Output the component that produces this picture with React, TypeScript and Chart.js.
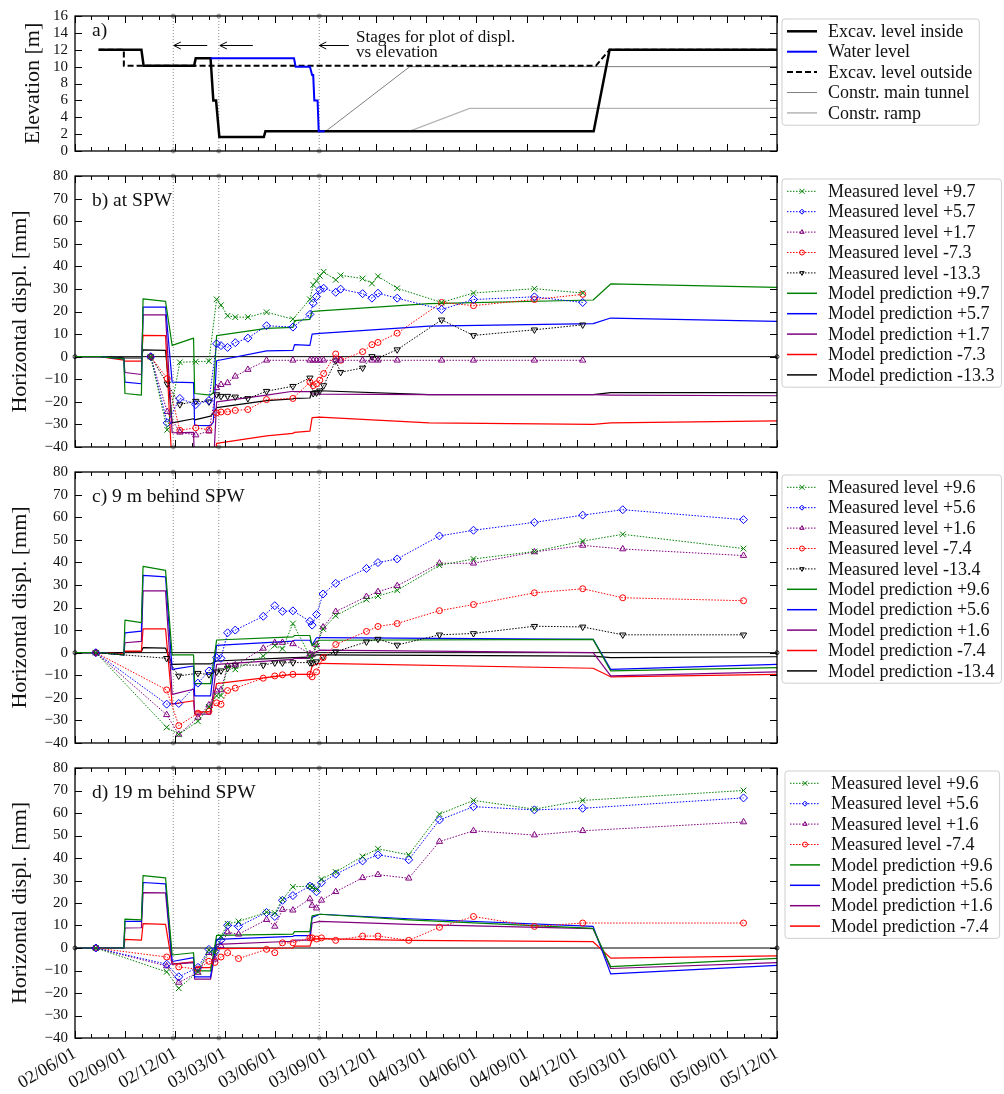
import React, { useEffect, useRef } from 'react';
import { Chart, registerables } from 'chart.js';

Chart.register(...registerables);

const FONT = '"Liberation Serif", "DejaVu Serif", serif';
Chart.defaults.font.family = FONT;

const T0 = Date.UTC(2002, 5, 1);
function day(s: string): number {
  const p = s.split('-').map(Number);
  return (Date.UTC(p[0], p[1] - 1, p[2]) - T0) / 86400000;
}

// ---------- axis ----------
const X_MIN = '2002-06-01';
const X_MAX = '2005-12-01';
const TICK_DATES = ['2002-06-01', '2002-09-01', '2002-12-01', '2003-03-01', '2003-06-01', '2003-09-01', '2003-12-01', '2004-03-01', '2004-06-01', '2004-09-01', '2004-12-01', '2005-03-01', '2005-06-01', '2005-09-01', '2005-12-01'];
const TICK_LABELS = ['02/06/01', '02/09/01', '02/12/01', '03/03/01', '03/06/01', '03/09/01', '03/12/01', '04/03/01', '04/06/01', '04/09/01', '04/12/01', '05/03/01', '05/06/01', '05/09/01', '05/12/01'];
const STAGE_DATES = ['2002-11-27', '2003-02-18', '2003-08-20'];

const MAJOR_DAYS = TICK_DATES.map(day);
const MONTH_DAYS: number[] = [];
for (let y = 2002, m = 5; y < 2005 || (y === 2005 && m <= 11);) {
  MONTH_DAYS.push((Date.UTC(y, m, 1) - T0) / 86400000);
  m++;
  if (m > 11) { m = 0; y++; }
}

// ---------- panel a ----------
const A_INSIDE_X = ['2002-07-14', '2002-09-30', '2002-10-04', '2003-01-04', '2003-01-07', '2003-02-03', '2003-02-08', '2003-02-13', '2003-02-19', '2003-05-11', '2003-05-14', '2005-01-01', '2005-01-30', '2005-12-01'];
const A_INSIDE_Y = [12, 12, 10.1, 10.1, 11, 11, 6, 6, 1.65, 1.65, 2.35, 2.35, 12, 12];
const A_WATER_X = ['2003-02-03', '2003-07-05', '2003-07-08', '2003-08-03', '2003-08-07', '2003-08-09', '2003-08-11', '2003-08-17', '2003-08-19', '2003-08-30'];
const A_WATER_Y = [11, 11, 10, 10, 9, 9, 6, 6, 2.35, 2.35];
const A_OUTSIDE_X = ['2002-07-14', '2002-08-29', '2002-08-29', '2005-01-05', '2005-01-30', '2005-12-01'];
const A_OUTSIDE_Y = [12, 12, 10.1, 10.1, 12, 12];
const A_TUNNEL_X = ['2003-09-01', '2004-02-01', '2005-12-01'];
const A_TUNNEL_Y = [2.35, 10, 10];
const A_RAMP_X = ['2004-02-01', '2004-05-20', '2005-12-01'];
const A_RAMP_Y = [2.35, 5.05, 5.05];
const ARROW_FROM = ['2003-01-28', '2003-04-21', '2003-10-13'];
const ARROW_TO = ['2002-11-28', '2003-02-20', '2003-08-20'];
const ARROW_Y = 12.6;
const NOTE_LINES = ['Stages for plot of displ.', 'vs elevation'];
const NOTE_X = '2003-10-26';
const NOTE_Y = 12.9;

// ---------- panel b ----------
const B_LEVELS = ['+9.7', '+5.7', '+1.7', '-7.3', '-13.3'];
const B_MEAS_X = ['2002-10-17', '2002-11-16', '2002-12-09', '2003-01-07', '2003-01-31', '2003-02-14', '2003-02-22', '2003-03-06', '2003-03-20', '2003-04-12', '2003-05-16', '2003-07-03', '2003-08-03', '2003-08-09', '2003-08-15', '2003-08-21', '2003-08-28', '2003-09-19', '2003-09-28', '2003-11-07', '2003-11-24', '2003-12-05', '2004-01-09', '2004-03-30', '2004-05-27', '2004-09-15', '2004-12-12'];
const B_MEAS_G = [0, -32.4, -2.5, -2.2, -2, 25.4, 22.8, 18.1, 17.5, 17.5, 19.7, 16.6, 25.4, 31.8, 33.5, 35.8, 37.6, 34, 36, 34.6, 32.4, 35.6, 30.3, 24, 28.2, 30.1, 28.2];
const B_MEAS_B = [0, -29.3, -18.5, -21.2, -19.4, 5.7, 4.9, 4.1, 6.2, 8.2, 13.7, 13.1, 18.7, 23.7, 26.6, 29.6, 30.3, 28.5, 29.9, 27.9, 25.9, 28.1, 25.9, 20.9, 25.3, 26.5, 24];
const B_MEAS_P = [0, -24.4, -33.5, -34.7, -33, -13.8, -12.4, -11.6, -8.7, -5.7, -1.6, -1.6, -1.6, -1.6, -1.6, -1.6, -1.6, -1.6, -1.6, -1.6, -1.6, -1.6, -1.6, -1.6, -1.6, -1.6, -1.6];
const B_MEAS_R = [0, -9.7, -32.6, -31.5, -32.4, -24.9, -24.5, -24.4, -23.8, -23.4, -19, -18.5, -11.3, -12.8, -12, -10.4, -7.5, 1.2, -1.6, 2.2, 5.3, 6.3, 10.4, 24, 22.6, 25.3, 27.6];
const B_MEAS_K = [0, -12, -21.2, -19.7, -20, -16.8, -17.5, -17.5, -17.8, -18.5, -15.3, -13.1, -9.4, -16.3, -16, -15.1, -12.8, -1.8, -6.9, -5, 0.1, -0.6, 3.1, 16.3, 9.4, 11.9, 14.1];
const B_MOD_X = ['2002-06-01', '2002-07-16', '2002-08-29', '2002-08-31', '2002-09-30', '2002-10-03', '2002-11-13', '2002-11-25', '2003-01-03', '2003-01-05', '2003-02-03', '2003-02-08', '2003-02-14', '2003-05-16', '2003-07-03', '2003-07-06', '2003-08-03', '2003-08-07', '2003-08-21', '2004-03-07', '2004-12-31', '2005-02-01', '2005-12-01'];
const B_MOD_G = [0, 0, -1, -16.3, -17, 25.6, 24.5, 5, 8.2, -16.3, -17, -16, 9.3, 12.5, 13, 16, 16.5, 20, 20.3, 23.5, 25.1, 32.2, 30.7];
const B_MOD_B = [0, 0, -1, -11.3, -12, 21.9, 22, -11.3, -11.5, -30.4, -30.5, -29, -1.8, 2.6, 2.8, 5.3, 5, 10, 10.3, 13.5, 14.6, 17.1, 15.6];
const B_MOD_P = [0, 0, -1, -7, -7.9, 18.5, 18.5, -33.7, -33.5, -50, -50, -50, -20, -17, -15.3, -15.5, -15.5, -16.5, -16.6, -16.8, -16.8, -17, -17.3];
const B_MOD_R = [0, 0, -1.5, -2, -2, 9.4, 9.3, -50, -50, -50, -50, -50, -38.4, -35.1, -34, -33.5, -33, -27, -26.8, -29.3, -30, -29.3, -28.4];
const B_MOD_K = [0, 0, -0.5, -0.6, -0.6, 3, 2.8, -29.3, -27.5, -28, -26.3, -25, -22.6, -19.5, -18.7, -18.5, -18.3, -15.3, -15.1, -16.8, -16.8, -15.9, -15.9];

// ---------- panel c ----------
const C_LEVELS = ['+9.6', '+5.6', '+1.6', '-7.4', '-13.4'];
const C_MEAS_X = ['2002-07-09', '2002-11-15', '2002-12-07', '2003-01-11', '2003-01-31', '2003-02-14', '2003-02-22', '2003-03-06', '2003-03-20', '2003-05-10', '2003-05-31', '2003-06-14', '2003-07-03', '2003-08-03', '2003-08-07', '2003-08-15', '2003-08-27', '2003-09-19', '2003-11-14', '2003-12-05', '2004-01-09', '2004-03-26', '2004-05-27', '2004-09-15', '2004-12-12', '2005-02-23', '2005-10-01'];
const C_MEAS_G = [0, -33.1, -36.2, -30.4, -24, -19.1, -19, -6.2, -7.4, -1.5, 3.2, 1.7, 12.9, -1.5, -2.5, 2.9, 10.5, 16.4, 23.5, 25.1, 27.6, 38.7, 41.5, 44.8, 49.4, 52.4, 46.1];
const C_MEAS_B = [0, -22.8, -22.5, -13.5, -8.1, -2.2, -2.5, 8.8, 10, 16.1, 20.8, 18.3, 18.5, 13.9, 12.2, 16.9, 26, 30.7, 37.3, 39.9, 41.5, 51.7, 54.2, 57.7, 60.9, 63.3, 58.9];
const C_MEAS_P = [0, -27.5, -36.2, -28.7, -23.2, -17.1, -16.5, -5.9, -5.5, 1.9, 4.4, 4.5, 3.9, -0.5, -1, 3.5, 11.3, 18.2, 24.8, 27, 29.6, 39.6, 39.6, 44.6, 47.5, 45.9, 43];
const C_MEAS_R = [0, -16.5, -32.3, -26.8, -26, -22.2, -22.9, -16.8, -15.7, -11.3, -10.3, -9.8, -9.6, -9.6, -10.7, -8.5, -2.2, 3.6, 9.4, 11.6, 12.9, 18.6, 21.3, 26.5, 28.3, 24.3, 23];
const C_MEAS_K = [0, -2.5, -10.3, -9.1, -9.7, -8.5, -8, -6.9, -5.5, -5.5, -4.5, -4.5, -4.4, -4.4, -4.5, -4, -1.9, 0.4, 4.8, 6, 3.4, 7.9, 8.5, 11.7, 11.4, 7.9, 7.9];
const C_MOD_X = ['2002-06-01', '2002-07-16', '2002-08-29', '2002-08-31', '2002-09-30', '2002-10-03', '2002-11-13', '2002-11-25', '2003-01-03', '2003-01-05', '2003-02-03', '2003-02-14', '2003-07-03', '2003-07-06', '2003-08-03', '2003-08-07', '2003-08-15', '2003-08-21', '2004-12-31', '2005-02-01', '2005-12-01'];
const C_MOD_G = [0, 0, -1, 14.4, 13.3, 38.2, 36.4, -1, -1, -13.7, -13.7, 5.6, 7, 7.6, 7.6, 3, 5, 5.5, 5.9, -8.1, -6.6];
const C_MOD_B = [0, 0, -1, 8.8, 9.5, 34.2, 33.6, -7.4, -5.9, -19.1, -19.1, 3.2, 5.1, 5.5, 5.5, 3.5, 6.6, 6.7, 5.9, -7.4, -5.2];
const C_MOD_P = [0, 0, -1, 4.4, 5, 27.4, 27.4, -18.5, -16.2, -27.2, -27.2, -5.2, -3, -2.5, -2.5, -1, 0.5, 1.1, 0, -10.3, -8.5];
const C_MOD_R = [0, 0, -0.5, 0.7, 0.7, 10.5, 10.5, -22.8, -21.3, -26.2, -26.2, -13.7, -9.6, -9.6, -9.6, -6, -5, -4.7, -6.9, -10.7, -9.6];
const C_MOD_K = [0, 0, 0, 0.5, 0.5, 2.2, 2, -5.2, -5, -5, -5, -3.7, -2.2, -2.2, -2, -1.5, -1, -1, -1.5, -2.2, -1.8];

// ---------- panel d ----------
const D_LEVELS = ['+9.6', '+5.6', '+1.6', '-7.4'];
const D_MEAS_X = ['2002-07-09', '2002-11-15', '2002-12-07', '2003-01-11', '2003-01-31', '2003-02-11', '2003-02-22', '2003-03-06', '2003-03-26', '2003-05-16', '2003-05-31', '2003-06-14', '2003-07-03', '2003-08-03', '2003-08-07', '2003-08-15', '2003-08-24', '2003-09-19', '2003-11-07', '2003-12-05', '2004-01-30', '2004-03-26', '2004-05-27', '2004-09-15', '2004-12-12', '2005-10-01'];
const D_MEAS_G = [0, -10.6, -17.9, -10.5, -1, -2, 5, 10.8, 11.8, 15.9, 15.5, 21.6, 27.2, 27.5, 27, 26, 30.6, 33.8, 40.7, 44.1, 41.4, 59.5, 65.6, 61.7, 65.6, 70];
const D_MEAS_B = [0, -7.2, -12.8, -8.6, -0.6, -1.5, 3.5, 10.1, 9.6, 15.8, 14, 21.2, 23.3, 27.5, 26.9, 25, 29, 32.8, 38.7, 41.4, 39.2, 56.9, 62.8, 61.4, 62.1, 66.7];
const D_MEAS_P = [0, -8, -15.3, -10.9, -2.1, -5, 1, 7.1, 6.1, 12.6, 9.6, 17.1, 16.8, 21.8, 18.9, 17.7, 21.2, 25, 31.2, 32.6, 31, 47.3, 52.1, 50.2, 52.1, 56];
const D_MEAS_R = [0, -4, -8.4, -9.4, -5.9, -6.4, -4, -2.1, -4.7, -0.6, -2.1, 2.3, 2.3, 4.5, 4.5, 4, 4.5, 3.4, 5.3, 5.3, 3.4, 9.2, 14, 9.6, 11.1, 11.1];
const D_MOD_X = ['2002-06-01', '2002-08-29', '2002-08-31', '2002-09-30', '2002-10-03', '2002-11-13', '2002-11-25', '2003-01-03', '2003-01-05', '2003-02-03', '2003-02-14', '2003-07-03', '2003-07-06', '2003-08-03', '2003-08-07', '2003-08-21', '2004-01-30', '2004-12-31', '2005-02-01', '2005-12-01'];
const D_MOD_G = [0, 0, 12.8, 12.5, 32.2, 31.2, -3.1, -2.1, -10.2, -10.2, 5.6, 6.2, 7.3, 7.3, 14.3, 15, 12.5, 8.7, -8.3, -4.6];
const D_MOD_B = [0, 0, 11.8, 11.8, 29.1, 28.5, -6, -4.3, -12.8, -12.8, 3.8, 5.2, 5.5, 5.5, 13.6, 15, 13, 9.6, -11.5, -7.7];
const D_MOD_P = [0, 0, 8.9, 9, 24.6, 24.5, -7.2, -6.5, -13.8, -13.8, 1.6, 3, 3.5, 3.5, 11.1, 11.8, 10.5, 8.6, -9.1, -6.5];
const D_MOD_R = [0, 0, 3.8, 3.5, 10.8, 10.5, -7.2, -6.2, -8.7, -8.7, -0.3, 0, 0.8, 0.8, 3.8, 4.2, 3.4, 2.8, -4.5, -3.5];

// ---------- styles ----------
const COLORS = ['#008000', '#0000ff', '#800080', '#ff0000', '#000000'];
const MARKERS = ['cross', 'diamond', 'tri', 'circle', 'tridown'];
const PSTYLE: any = { cross: 'crossRot', diamond: 'rectRot', tri: 'triangle', circle: 'circle', tridown: 'triangle' };
const PRAD: any = { cross: 4, diamond: 4, tri: 3.6, circle: 3, tridown: 3.6 };

const pts = (xs: string[], ys: number[]) => xs.map((d, i) => ({ x: day(d), y: ys[i] }));

function meas(xs: string[], ys: number[], i: number) {
  const mk = MARKERS[i];
  return {
    data: pts(xs, ys), borderColor: COLORS[i], borderWidth: 1, borderDash: [1.5, 1.5],
    pointStyle: PSTYLE[mk], pointRotation: mk === 'tridown' ? 180 : 0, pointRadius: PRAD[mk],
    pointBorderColor: COLORS[i], pointBackgroundColor: 'rgba(255,255,255,0)', pointBorderWidth: 1,
    tension: 0, fill: false, order: 1,
  };
}
function model(xs: string[], ys: number[], i: number) {
  return { data: pts(xs, ys), borderColor: COLORS[i], borderWidth: 1.2, pointRadius: 0, tension: 0, fill: false, order: 2, borderJoinStyle: 'round' };
}
function plain(xs: string[], ys: number[], color: string, width: number, order: number, dash: number[] = []) {
  return { data: pts(xs, ys), borderColor: color, borderWidth: width, borderDash: dash, pointRadius: 0, tension: 0, fill: false, order };
}
function stageSets(ymin: number, ymax: number) {
  return STAGE_DATES.map((d) => ({
    data: [{ x: day(d), y: ymin }, { x: day(d), y: ymax }],
    borderColor: '#8a8a8a', borderWidth: 1, borderDash: [1, 2], pointRadius: 2,
    pointBackgroundColor: '#c0c0c0', pointBorderColor: '#8a8a8a', pointBorderWidth: 0.8,
    clip: false, order: 6, tension: 0,
  }));
}
function zeroSet() {
  return {
    data: [{ x: day(X_MIN), y: 0 }, { x: day(X_MAX), y: 0 }], borderColor: '#000', borderWidth: 1,
    pointRadius: 2, pointBorderColor: '#000', pointBackgroundColor: 'rgba(255,255,255,0)', pointBorderWidth: 0.8,
    clip: false, order: 5, tension: 0,
  };
}
function legendFor(levels: string[]) {
  return [
    ...levels.map((l, i) => ({ label: `Measured level ${l}`, color: COLORS[i], width: 1, dash: [1.5, 1.5], marker: MARKERS[i] })),
    ...levels.map((l, i) => ({ label: `Model prediction ${l}`, color: COLORS[i], width: 1.5 })),
  ];
}

const LEG_A = [
  { label: 'Excav. level inside', color: '#000000', width: 2.5 },
  { label: 'Water level', color: '#0000ff', width: 2 },
  { label: 'Excav. level outside', color: '#000000', width: 2, dash: [6, 3] },
  { label: 'Constr. main tunnel', color: '#808080', width: 1 },
  { label: 'Constr. ramp', color: '#b4b4b4', width: 1.5 },
];

function drawMarker(ctx: any, type: string, x: number, y: number, r: number, color: string) {
  ctx.save();
  ctx.setLineDash([]);
  ctx.strokeStyle = color;
  ctx.lineWidth = 1;
  ctx.beginPath();
  if (type === 'cross') {
    ctx.moveTo(x - r, y - r); ctx.lineTo(x + r, y + r);
    ctx.moveTo(x - r, y + r); ctx.lineTo(x + r, y - r);
  } else if (type === 'diamond') {
    ctx.moveTo(x, y - r); ctx.lineTo(x + r, y); ctx.lineTo(x, y + r); ctx.lineTo(x - r, y); ctx.closePath();
  } else if (type === 'tri') {
    ctx.moveTo(x, y - r); ctx.lineTo(x + r * 0.87, y + r * 0.5); ctx.lineTo(x - r * 0.87, y + r * 0.5); ctx.closePath();
  } else if (type === 'tridown') {
    ctx.moveTo(x, y + r); ctx.lineTo(x + r * 0.87, y - r * 0.5); ctx.lineTo(x - r * 0.87, y - r * 0.5); ctx.closePath();
  } else {
    ctx.arc(x, y, r, 0, Math.PI * 2);
  }
  ctx.stroke();
  ctx.restore();
}

function drawLegend(ctx: any, items: any[], left: number, top: number) {
  const rowH = 20.4;
  const padTop = 12.3;
  ctx.save();
  ctx.font = `18px ${FONT}`;
  let maxW = 0;
  items.forEach((it) => { maxW = Math.max(maxW, ctx.measureText(it.label).width); });
  const w = 46 + maxW + 7;
  const h = padTop * 2 + rowH * (items.length - 1);
  ctx.beginPath();
  const r = 3;
  ctx.moveTo(left + r, top);
  ctx.arcTo(left + w, top, left + w, top + h, r);
  ctx.arcTo(left + w, top + h, left, top + h, r);
  ctx.arcTo(left, top + h, left, top, r);
  ctx.arcTo(left, top, left + w, top, r);
  ctx.closePath();
  ctx.fillStyle = 'rgba(255,255,255,0.85)';
  ctx.fill();
  ctx.strokeStyle = '#cfcfcf';
  ctx.lineWidth = 1;
  ctx.stroke();
  items.forEach((it, i) => {
    const cy = top + padTop + i * rowH;
    ctx.setLineDash(it.dash || []);
    ctx.strokeStyle = it.color;
    ctx.lineWidth = it.width;
    ctx.beginPath();
    ctx.moveTo(left + 5, cy);
    ctx.lineTo(left + 35, cy);
    ctx.stroke();
    ctx.setLineDash([]);
    if (it.marker) drawMarker(ctx, it.marker, left + 20, cy, 2.5, it.color);
    ctx.fillStyle = '#111';
    ctx.textAlign = 'left';
    ctx.textBaseline = 'middle';
    ctx.fillText(it.label, left + 46, cy + 1);
  });
  ctx.restore();
}

function makeDecor(p: any) {
  return {
    id: 'decor',
    afterDatasetsDraw(chart: any) {
      const { ctx, chartArea: a } = chart;
      const xs = chart.scales.x;
      const ys = chart.scales.y;
      ctx.save();
      ctx.setLineDash([]);
      ctx.strokeStyle = '#000';
      ctx.lineWidth = 1;
      ctx.beginPath();
      MONTH_DAYS.forEach((m) => {
        const px = Math.round(xs.getPixelForValue(m)) + 0.5;
        const len = MAJOR_DAYS.includes(m) ? 7 : 4;
        ctx.moveTo(px, a.bottom); ctx.lineTo(px, a.bottom - len);
        ctx.moveTo(px, a.top); ctx.lineTo(px, a.top + len);
      });
      ys.ticks.forEach((t: any) => {
        const py = Math.round(ys.getPixelForValue(t.value)) + 0.5;
        ctx.moveTo(a.left, py); ctx.lineTo(a.left + 7, py);
        ctx.moveTo(a.right, py); ctx.lineTo(a.right - 7, py);
      });
      ctx.stroke();
      ctx.lineWidth = 1.3;
      ctx.strokeRect(a.left, a.top, a.right - a.left, a.bottom - a.top);

      // panel label
      ctx.fillStyle = '#111';
      ctx.font = `19.5px ${FONT}`;
      ctx.textAlign = 'left';
      ctx.textBaseline = 'alphabetic';
      ctx.fillText(p.label, a.left + 17, a.top + p.labelDy);

      // y title
      ctx.save();
      ctx.translate(p.titleX, (a.top + a.bottom) / 2);
      ctx.rotate(-Math.PI / 2);
      ctx.font = `22px ${FONT}`;
      ctx.textAlign = 'center';
      ctx.textBaseline = 'middle';
      ctx.fillText(p.title, 0, 0);
      ctx.restore();

      if (p.arrows) {
        ctx.strokeStyle = '#000';
        ctx.lineWidth = 1;
        ARROW_FROM.forEach((f, i) => {
          const x1 = xs.getPixelForValue(day(f));
          const x2 = xs.getPixelForValue(day(ARROW_TO[i]));
          const yy = Math.round(ys.getPixelForValue(ARROW_Y)) + 0.5;
          ctx.beginPath();
          ctx.moveTo(x1, yy); ctx.lineTo(x2, yy);
          ctx.moveTo(x2 + 7, yy - 3.5); ctx.lineTo(x2, yy); ctx.lineTo(x2 + 7, yy + 3.5);
          ctx.stroke();
        });
        ctx.font = `17px ${FONT}`;
        ctx.fillStyle = '#111';
        const nx = xs.getPixelForValue(day(NOTE_X));
        const ny = ys.getPixelForValue(NOTE_Y);
        NOTE_LINES.forEach((t, i) => ctx.fillText(t, nx, ny + i * 14.5));
      }

      drawLegend(ctx, p.legend, p.legendLeft, a.top + 3);
      ctx.restore();
    },
  };
}

function xScale(show: boolean) {
  return {
    type: 'linear',
    min: day(X_MIN),
    max: day(X_MAX),
    grid: { display: false, drawTicks: false },
    border: { display: false },
    afterBuildTicks: (s: any) => { s.ticks = TICK_DATES.map((d) => ({ value: day(d) })); },
    afterFit: (s: any) => { s.height = show ? 56 : 0; },
    ticks: {
      display: show, autoSkip: false, minRotation: 30, maxRotation: 30, padding: 5,
      font: { family: FONT, size: 18 }, color: '#111',
      callback: (_v: any, i: number) => TICK_LABELS[i] ?? '',
    },
  };
}
function yScale(min: number, max: number, step: number) {
  return {
    type: 'linear', min, max,
    grid: { display: false, drawTicks: false },
    border: { display: false },
    afterFit: (s: any) => { s.width = 75; },
    ticks: {
      stepSize: step, autoSkip: false, padding: 7, font: { family: FONT, size: 15 }, color: '#111',
      callback: (v: any) => String(v).replace('-', '\u2212'),
    },
  };
}

const PANELS = [
  {
    top: 0, h: 167, showX: false, yMin: 0, yMax: 16, yStep: 2,
    title: 'Elevation [m]', titleX: 33, label: 'a)', labelDy: 20, legend: LEG_A, legendLeft: 782, arrows: true,
    datasets: [
      plain(A_WATER_X, A_WATER_Y, '#0000ff', 2, 0),
      plain(A_INSIDE_X, A_INSIDE_Y, '#000000', 2.5, 1),
      plain(A_OUTSIDE_X, A_OUTSIDE_Y, '#000000', 2, 2, [6, 3]),
      plain(A_TUNNEL_X, A_TUNNEL_Y, '#808080', 1, 3),
      plain(A_RAMP_X, A_RAMP_Y, '#b4b4b4', 1.2, 3),
      ...stageSets(0, 16),
    ],
  },
  {
    top: 160, h: 303, showX: false, yMin: -40, yMax: 80, yStep: 10,
    title: 'Horizontal displ. [mm]', titleX: 20, label: 'b) at SPW', labelDy: 29.5, legend: legendFor(B_LEVELS), legendLeft: 782,
    datasets: [
      ...[B_MEAS_G, B_MEAS_B, B_MEAS_P, B_MEAS_R, B_MEAS_K].map((ys, i) => meas(B_MEAS_X, ys, i)),
      ...[B_MOD_G, B_MOD_B, B_MOD_P, B_MOD_R, B_MOD_K].map((ys, i) => model(B_MOD_X, ys, i)),
      zeroSet(),
      ...stageSets(-40, 80),
    ],
  },
  {
    top: 456, h: 303, showX: false, yMin: -40, yMax: 80, yStep: 10,
    title: 'Horizontal displ. [mm]', titleX: 20, label: 'c) 9 m behind SPW', labelDy: 29.5, legend: legendFor(C_LEVELS), legendLeft: 782,
    datasets: [
      ...[C_MEAS_G, C_MEAS_B, C_MEAS_P, C_MEAS_R, C_MEAS_K].map((ys, i) => meas(C_MEAS_X, ys, i)),
      ...[C_MOD_G, C_MOD_B, C_MOD_P, C_MOD_R, C_MOD_K].map((ys, i) => model(C_MOD_X, ys, i)),
      zeroSet(),
      ...stageSets(-40, 80),
    ],
  },
  {
    top: 752, h: 342, showX: true, yMin: -40, yMax: 80, yStep: 10,
    title: 'Horizontal displ. [mm]', titleX: 20, label: 'd) 19 m behind SPW', labelDy: 30, legend: legendFor(D_LEVELS), legendLeft: 785,
    datasets: [
      ...[D_MEAS_G, D_MEAS_B, D_MEAS_P, D_MEAS_R].map((ys, i) => meas(D_MEAS_X, ys, i)),
      ...[D_MOD_G, D_MOD_B, D_MOD_P, D_MOD_R].map((ys, i) => model(D_MOD_X, ys, i)),
      zeroSet(),
      ...stageSets(-40, 80),
    ],
  },
];

function Panel({ cfg }: { cfg: any }) {
  const ref = useRef<HTMLCanvasElement | null>(null);
  useEffect(() => {
    if (!ref.current) return;
    const chart = new Chart(ref.current, {
      type: 'line',
      data: { datasets: cfg.datasets },
      options: {
        responsive: false,
        maintainAspectRatio: false,
        devicePixelRatio: 1,
        animation: false,
        events: [],
        layout: { padding: { left: 0, right: 227, top: 14, bottom: 0 } },
        scales: { x: xScale(cfg.showX), y: yScale(cfg.yMin, cfg.yMax, cfg.yStep) },
        plugins: { legend: { display: false }, tooltip: { enabled: false } },
      } as any,
      plugins: [makeDecor(cfg)],
    } as any);
    return () => chart.destroy();
  }, []);
  return (
    <canvas
      ref={ref}
      width={1004}
      height={cfg.h}
      style={{ position: 'absolute', left: 0, top: cfg.top, width: 1004, height: cfg.h }}
    />
  );
}

export default function App() {
  return (
    <div style={{ position: 'absolute', left: 0, top: 0, width: 1004, height: 1094, background: '#ffffff' }}>
      {PANELS.map((p, i) => <Panel key={i} cfg={p} />)}
    </div>
  );
}
